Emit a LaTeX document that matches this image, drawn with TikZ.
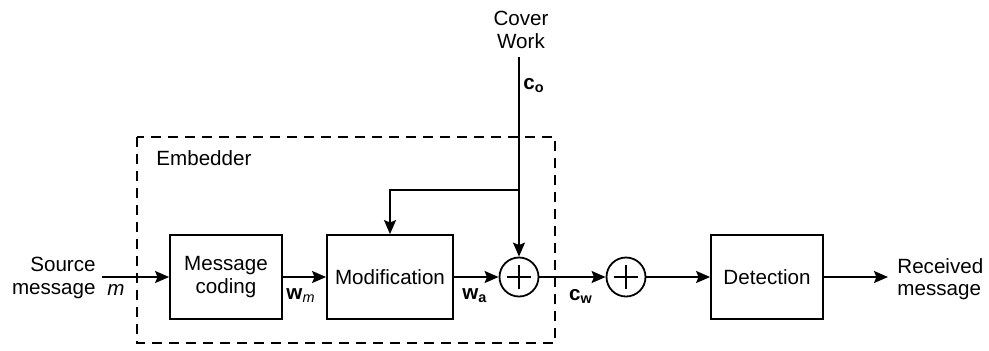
\documentclass[tikz,border=0pt]{standalone}
\usepackage{fontspec}
\setmainfont{Liberation Sans}
\usepackage{tikz}
\usetikzlibrary{arrows.meta}

\begin{document}
\begin{tikzpicture}[
    x=0.5pt, y=-0.5pt,
    every node/.style={font=\fontsize{10.3}{11.2}\selectfont},
    block/.style={draw, line width=0.9pt, minimum width=56pt,
                  minimum height=42pt, inner sep=0pt, align=center},
    adder/.style={draw, circle, line width=0.9pt, minimum size=19.5pt, inner sep=0pt,
                  path picture={
                    \draw[line width=0.65pt]
                      ([xshift=-6.2pt]path picture bounding box.center) --
                      ([xshift=6.2pt]path picture bounding box.center)
                      ([yshift=-6.2pt]path picture bounding box.center) --
                      ([yshift=6.2pt]path picture bounding box.center);}},
    flow/.style={draw, line width=0.9pt,
                 -{Stealth[length=7pt, width=6pt, inset=1.2pt]}},
    embed/.style={draw, line width=0.9pt, dash pattern=on 5pt off 3.5pt},
    sig/.style={inner sep=0pt}
]
\useasboundingbox (0,0) rectangle (989,350);

% embedder frame
\draw[embed] (137,137) rectangle (555,343);
\node[anchor=west, sig] (embtxt) at (156,158) {Embedder};

% blocks
\node[block] (coding) at (226,277) {Message\\coding};
\node[block, minimum width=63pt] (modif) at (390,277) {Modification};
\node[adder] (sum1) at (519,277) {};
\node[adder] (sum2) at (626,277) {};
\node[block] (detect) at (767,277) {Detection};

% outer texts
\node[anchor=east, align=right, sig] (src) at (96,278) {Source\\message};
\node[anchor=west, align=left, sig] (recv) at (897,279) {Received\\message};
\node[align=center, sig] (cover) at (521,30) {Cover\\Work};

\coordinate (srcend) at (102,277);
\coordinate (covend) at (519,57);
\coordinate (recvend) at (888,277);
\coordinate (branch) at (519,190);

% connections
\draw[flow] (srcend) -- (coding.west);
\draw[flow] (coding.east) -- (modif.west);
\draw[flow] (modif.east) -- (sum1.west);
\draw[flow] (sum1.east) -- (sum2.west);
\draw[flow] (sum2.east) -- (detect.west);
\draw[flow] (detect.east) -- (recvend);
\draw[flow] (covend) -- (sum1.north);
\draw[flow] (branch) -| (modif.north);

% signal labels
\node[sig] (lm) at (116,290) {\textit{m}};
\node[sig] (lwm) at (301,296) {\textbf{w}\textsubscript{\textit{m}}};
\node[sig] (lwa) at (475,296) {\textbf{w}\textsubscript{\textbf{a}}};
\node[sig] (lcw) at (581,296) {\textbf{c}\textsubscript{\textbf{w}}};
\node[sig] (lco) at (534,86) {\textbf{c}\textsubscript{\textbf{o}}};
\end{tikzpicture}
\end{document}
